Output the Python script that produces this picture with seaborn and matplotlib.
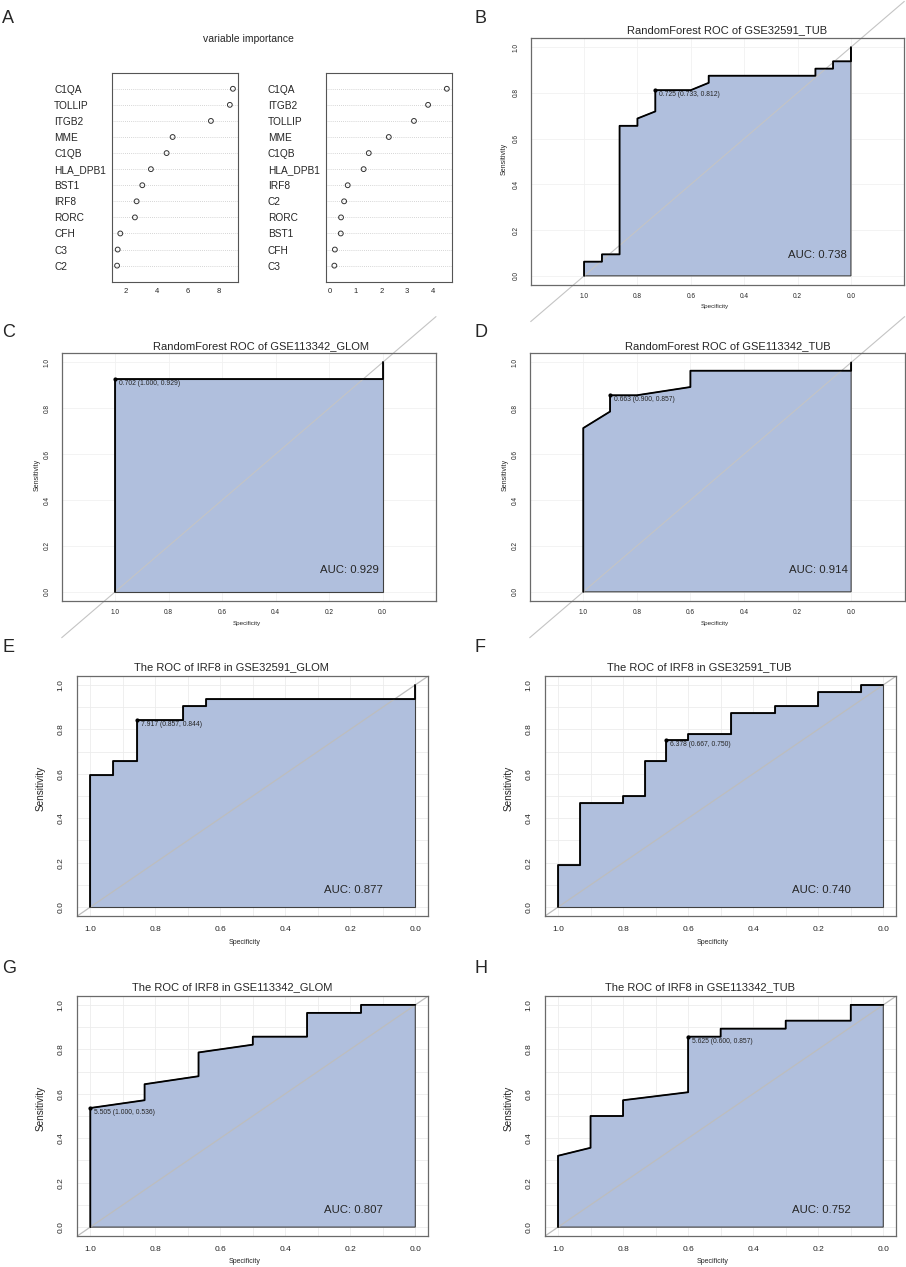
import numpy as np
import pandas as pd
import matplotlib
matplotlib.use('Agg')
import matplotlib.pyplot as plt
from matplotlib.ticker import MultipleLocator
import seaborn as sns

sns.set_style('white')
plt.rcParams['font.family'] = ['Liberation Sans', 'DejaVu Sans']

W, H = 906, 1267

# ---------------- data ----------------
# panel A: variable importance (two dot charts)
genes_1 = ['C1QA', 'TOLLIP', 'ITGB2', 'MME', 'C1QB', 'HLA_DPB1', 'BST1', 'IRF8', 'RORC', 'CFH', 'C3', 'C2']
imp_1 = [8.95, 8.75, 7.52, 5.03, 4.64, 3.62, 3.06, 2.69, 2.58, 1.63, 1.46, 1.42]
genes_2 = ['C1QA', 'ITGB2', 'TOLLIP', 'MME', 'C1QB', 'HLA_DPB1', 'IRF8', 'C2', 'RORC', 'BST1', 'CFH', 'C3']
imp_2 = [4.55, 3.82, 3.27, 2.29, 1.51, 1.31, 0.69, 0.55, 0.43, 0.42, 0.19, 0.17]

# ROC curves (specificity, sensitivity)
spec_b = [1.0, 1.0, 0.933, 0.933, 0.867, 0.867, 0.8, 0.8, 0.733, 0.733, 0.6, 0.533, 0.533, 0.133, 0.133, 0.067, 0.067, 0.0, 0.0]
sens_b = [0.0, 0.062, 0.062, 0.094, 0.094, 0.656, 0.656, 0.688, 0.719, 0.812, 0.812, 0.844, 0.875, 0.875, 0.906, 0.906, 0.938, 0.938, 1.0]
spec_c = [1.0, 1.0, 0.0, 0.0]
sens_c = [0.0, 0.929, 0.929, 1.0]
spec_d = [1.0, 1.0, 0.9, 0.9, 0.8, 0.6, 0.6, 0.0, 0.0]
sens_d = [0.0, 0.714, 0.786, 0.857, 0.857, 0.893, 0.964, 0.964, 1.0]
spec_e = [1.0, 1.0, 0.929, 0.929, 0.857, 0.857, 0.714, 0.714, 0.643, 0.643, 0.0, 0.0]
sens_e = [0.0, 0.594, 0.594, 0.656, 0.656, 0.844, 0.844, 0.906, 0.906, 0.938, 0.938, 1.0]
spec_f = [1.0, 1.0, 0.933, 0.933, 0.8, 0.8, 0.733, 0.733, 0.667, 0.667, 0.6, 0.6, 0.467, 0.467,
          0.333, 0.333, 0.2, 0.2, 0.067, 0.067, 0.0]
sens_f = [0.0, 0.188, 0.188, 0.469, 0.469, 0.5, 0.5, 0.656, 0.656, 0.75, 0.75, 0.781, 0.781, 0.875,
          0.875, 0.906, 0.906, 0.969, 0.969, 1.0, 1.0]
spec_g = [1.0, 1.0, 0.833, 0.833, 0.667, 0.667, 0.5, 0.5, 0.333, 0.333, 0.167, 0.167, 0.0]
sens_g = [0.0, 0.536, 0.571, 0.643, 0.679, 0.786, 0.821, 0.857, 0.857, 0.964, 0.964, 1.0, 1.0]
spec_h = [1.0, 1.0, 0.9, 0.9, 0.8, 0.8, 0.6, 0.6, 0.5, 0.5, 0.3, 0.3, 0.1, 0.1, 0.0]
sens_h = [0.0, 0.321, 0.357, 0.5, 0.5, 0.571, 0.607, 0.857, 0.857, 0.893, 0.893, 0.929, 0.929, 1.0, 1.0]

# best threshold: (threshold, specificity, sensitivity)
thr_b = (0.725, 0.733, 0.812)
thr_c = (0.702, 1.000, 0.929)
thr_d = (0.663, 0.900, 0.857)
thr_e = (7.917, 0.857, 0.844)
thr_f = (6.378, 0.667, 0.750)
thr_g = (5.505, 1.000, 0.536)
thr_h = (5.625, 0.600, 0.857)

auc_vals = {'B': 0.738, 'C': 0.929, 'D': 0.914, 'E': 0.877, 'F': 0.740, 'G': 0.807, 'H': 0.752}
titles = {
    'B': 'RandomForest ROC of GSE32591_TUB',
    'C': 'RandomForest ROC of GSE113342_GLOM',
    'D': 'RandomForest ROC of GSE113342_TUB',
    'E': 'The ROC of IRF8 in GSE32591_GLOM',
    'F': 'The ROC of IRF8 in GSE32591_TUB',
    'G': 'The ROC of IRF8 in GSE113342_GLOM',
    'H': 'The ROC of IRF8 in GSE113342_TUB',
}
tick_vals = [1.0, 0.8, 0.6, 0.4, 0.2, 0.0]

FILL = '#B0BFDD'
BOX = '#6A6A6A'

fig = plt.figure(figsize=(W / 100, H / 100), dpi=100)


def px_axes(l, t, r, b):
    return fig.add_axes([l / W, 1 - b / H, (r - l) / W, (b - t) / H])


def ftext(x, y, s, **kw):
    fig.text(x / W, 1 - y / H, s, **kw)


# ---------------- panel A ----------------
ftext(2, 23, 'A', fontsize=13, va='baseline', ha='left')
ftext(248, 39, 'variable importance', fontsize=7.5, ha='center', va='center')

for genes, vals, box, xlim, xt in [
        (genes_1, imp_1, (112.3, 72.7, 238.3, 281.7), (1.11, 9.30), [2, 4, 6, 8]),
        (genes_2, imp_2, (325.7, 72.7, 451.7, 281.7), (-0.167, 4.74), [0, 1, 2, 3, 4])]:
    ax = px_axes(*box)
    ypos = np.arange(len(genes), 0, -1)
    df = pd.DataFrame({'gene': genes, 'imp': vals, 'pos': ypos})
    for y in ypos:
        ax.axhline(y, color='#C8C8C8', ls=(0, (1, 1.5)), lw=0.6, zorder=0)
    sns.scatterplot(data=df, x='imp', y='pos', ax=ax, marker='o', s=12,
                    facecolor='none', edgecolor='#333333', linewidth=0.7, zorder=3)
    ax.set_xlim(*xlim)
    ax.set_ylim(0, len(genes) + 1)
    ax.set_yticks(ypos)
    ax.set_yticklabels(genes, ha='left', fontsize=7.3)
    ax.set_xticks(xt)
    ax.set_xticklabels([str(v) for v in xt], fontsize=5.5)
    ax.tick_params(axis='y', length=0, pad=41.8)
    ax.tick_params(axis='x', length=3, width=0.6, color='#555555', pad=1.5, direction='out')
    ax.set_xlabel('')
    ax.set_ylabel('')
    for s in ax.spines.values():
        s.set_color('#555555')
        s.set_linewidth(0.8)


# ---------------- ROC panels ----------------
def roc_panel(letter, box, spec, sens, thr, big, letter_xy, title_xy, sens_xy, specl_xy):
    ax = px_axes(*box)
    if big:
        ax.set_xlim(1.04, -0.04)
        ax.set_ylim(-0.04, 1.04)
        tfs, sfs, xfs = 6.0, 7.2, 5.0
        tlen, ypad, xpad = 4, 5, 3
        auc_x, auc_y = 0.10, 0.065
        ax.xaxis.set_minor_locator(MultipleLocator(0.1))
        ax.yaxis.set_minor_locator(MultipleLocator(0.1))
        ax.grid(True, which='both', color='#ECECEC', lw=0.6, zorder=0)
        ax.plot([1.04, -0.04], [-0.04, 1.04], color='#BDBDBD', lw=0.9, zorder=2)
    else:
        ax.set_xlim(1.2, -0.2)
        ax.set_ylim(-0.04, 1.04)
        tfs, sfs, xfs = 4.7, 5.0, 4.5
        tlen, ypad, xpad = 2.2, 5.5, 3.5
        auc_x, auc_y = 0.014, 0.08
        ax.grid(True, which='major', color='#F1F1F1', lw=0.6, zorder=0)
        ax.plot([1.2, -0.2], [-0.2, 1.2], color='#C4C4C4', lw=0.8, zorder=2, clip_on=False)

    sp = np.array(spec)
    se = np.array(sens)
    ax.fill(np.r_[sp, sp[-1], sp[0]], np.r_[se, 0, 0], facecolor=FILL,
            edgecolor='#404040', lw=0.8, zorder=1)
    df = pd.DataFrame({'spec': sp, 'sens': se})
    sns.lineplot(data=df, x='spec', y='sens', sort=False, estimator=None, ax=ax,
                 color='black', lw=1.3, zorder=4)
    ax.plot([1.04, -0.04] if big else [1.2, -0.2], [-0.04, -0.04], alpha=0)

    t, tsp, tse = thr
    ax.scatter([tsp], [tse], s=4, color='black', zorder=5)
    ax.annotate(f'{t:.3f} ({tsp:.3f}, {tse:.3f})', (tsp, tse), xytext=(3, -3.2),
                textcoords='offset points', fontsize=4.9, ha='left', va='center', zorder=6)
    ax.text(auc_x, auc_y, f'AUC: {auc_vals[letter]:.3f}', fontsize=8.2, ha='right',
            va='baseline', zorder=6)

    ax.set_xticks(tick_vals)
    ax.set_yticks(tick_vals)
    ax.set_xticklabels([f'{v:.1f}' for v in tick_vals], fontsize=tfs)
    ax.set_yticklabels([f'{v:.1f}' for v in tick_vals], fontsize=tfs, rotation=90, va='center')
    ax.tick_params(axis='both', which='major', length=tlen, width=0.6, color=BOX, direction='out')
    ax.tick_params(axis='both', which='minor', length=0)
    ax.tick_params(axis='y', pad=ypad)
    ax.tick_params(axis='x', pad=xpad)
    ax.set_xlabel('')
    ax.set_ylabel('')
    for s in ax.spines.values():
        s.set_color(BOX)
        s.set_linewidth(0.9)

    ftext(letter_xy[0], letter_xy[1], letter, fontsize=13, ha='left', va='baseline')
    ftext(title_xy[0], title_xy[1], titles[letter], fontsize=8, ha='center', va='baseline')
    ftext(sens_xy[0], sens_xy[1], 'Sensitivity', fontsize=sfs, rotation=90, ha='center', va='center')
    ftext(specl_xy[0], specl_xy[1], 'Specificity', fontsize=xfs, ha='center', va='center')


roc_panel('B', (530.7, 38, 904.3, 285), spec_b, sens_b, thr_b, False,
          (474, 23), (727, 33), (504.3, 159), (715, 306.5))
roc_panel('C', (61.7, 353.3, 436, 601), spec_c, sens_c, thr_c, False,
          (2, 337), (261, 349), (36.7, 475), (246.7, 623))
roc_panel('D', (529.7, 353.3, 904.7, 601), spec_d, sens_d, thr_d, False,
          (474, 337), (728, 349), (504.7, 475), (714.7, 623))
roc_panel('E', (77.3, 676, 428.3, 916), spec_e, sens_e, thr_e, True,
          (2, 652), (231.7, 670), (40.7, 788), (245, 942))
roc_panel('F', (545, 676, 896.3, 916), spec_f, sens_f, thr_f, True,
          (474, 652), (699.7, 670), (509, 788), (713, 942))
roc_panel('G', (77.3, 996, 428.3, 1236), spec_g, sens_g, thr_g, True,
          (2, 973), (231.7, 990), (40.7, 1108), (245, 1261.5))
roc_panel('H', (545, 996, 896.3, 1236), spec_h, sens_h, thr_h, True,
          (474, 973), (700, 990), (509, 1108), (713, 1261.5))

fig.savefig('out.png', dpi=100)
